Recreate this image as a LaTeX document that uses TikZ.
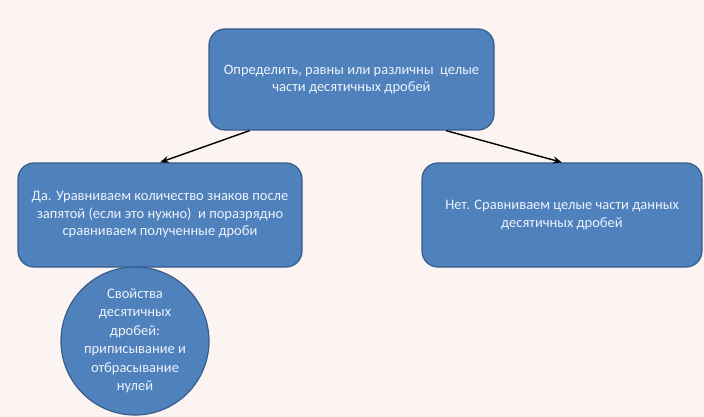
\documentclass[tikz,border=0pt]{standalone}
\usepackage{fontspec}
\setmainfont{Carlito}
\usetikzlibrary{calc,arrows.meta,shapes.geometric}
\definecolor{bg}{HTML}{FCF3F3}
\definecolor{boxfill}{HTML}{4F81BD}
\definecolor{boxline}{HTML}{385D8A}
\definecolor{boxtext}{HTML}{EEF2FA}
\tikzset{
  stepbox/.style={draw=boxline, line width=1.2pt, fill=boxfill, rounded corners=16pt,
    text=boxtext, align=center, inner sep=0pt,
    font=\fontsize{14.5}{17.5}\selectfont},
  propell/.style={draw=boxline, line width=1.2pt, fill=boxfill, ellipse,
    text=boxtext, align=center, inner sep=0pt,
    font=\fontsize{14.5}{18.5}\selectfont},
  link/.style={draw=black, line width=1.4pt, -{Stealth[length=9pt,width=7pt]}}
}
\begin{document}
\begin{tikzpicture}[x=1pt,y=-1pt]
\fill[bg] (0,0) rectangle (704,417);
\useasboundingbox (0,0) rectangle (704,417);
\node[propell, minimum width=148pt, minimum height=148pt] (prop) at (135,341)
  {Свойства\\десятичных\\дробей:\\приписывание и\\отбрасывание\\нулей};
\node[stepbox, minimum width=285pt, minimum height=101pt] (top) at (351.5,79.5)
  {Определить, равны или различны~ целые\\части десятичных дробей};
\node[stepbox, minimum width=284pt, minimum height=104pt] (left) at (160,215)
  {Да. Уравниваем количество знаков после\\запятой (если это нужно)~ и поразрядно\\сравниваем полученные дроби};
\node[stepbox, minimum width=280pt, minimum height=104pt] (right) at (562,215)
  {Нет. Сравниваем целые части данных\\десятичных дробей};
\draw[link] ($(top.south west)!0.144!(top.south east)$) -- (left.north);
\draw[link] ($(top.south west)!0.83!(top.south east)$) -- (right.north);
\end{tikzpicture}
\end{document}
